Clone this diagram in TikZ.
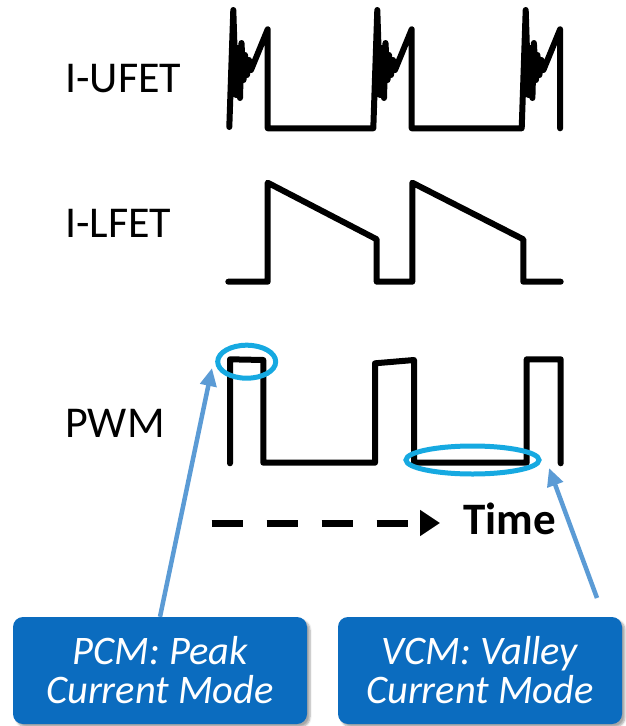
\documentclass[tikz,border=0pt]{standalone}
\usepackage{fontspec}
\setmainfont{Carlito}
\usetikzlibrary{arrows.meta,shapes.geometric,shadows.blur}
\definecolor{boxblue}{HTML}{0B6CBF}
\definecolor{arrowblue}{HTML}{5B9BD5}
\definecolor{ringcyan}{HTML}{16A9E1}
\begin{document}
\begin{tikzpicture}[x=1pt,y=-1pt,
  wave/.style={line width=6pt, line join=round, line cap=round},
  lab/.style={font=\fontsize{44}{50}\selectfont, inner sep=0pt, anchor=base west},
  modebox/.style={rounded corners=10pt, fill=boxblue, text=white,
    font=\itshape\fontsize{40.5}{39}\selectfont, align=center,
    minimum height=107pt, inner sep=0pt,
    blur shadow={shadow xshift=3pt, shadow yshift=-3pt, shadow blur steps=6, shadow opacity=35}},
  ring/.style={ellipse, draw=ringcyan, line width=5pt, inner sep=0pt},
  callout/.style={draw=arrowblue, line width=4.5pt, -{Triangle[length=18pt,width=16pt]}}]
\useasboundingbox (0,0) rectangle (625,726);

% labels
\node[lab] (lu) at (65,92) {I-UFET};
\node[lab] (ll) at (65,237) {I-LFET};
\node[lab] (lp) at (65,437) {PWM};

% I-UFET waveform
\draw[wave] (229.3,127) -- (233.3,10) -- (236,95) -- (238,48) -- (240,98) -- (241.5,43)
  -- (243.5,80) -- (245,55) -- (247,75) -- (249,60) -- (251,70) -- (267.7,29.3) -- (267.7,128.3)
  -- (373.3,128.3) -- (377.3,10) -- (380,95) -- (382,48) -- (384,98) -- (385.5,43)
  -- (387.5,80) -- (389,55) -- (391,75) -- (393,60) -- (395,70) -- (411.7,29.3) -- (411.7,128.3)
  -- (521.7,128.3) -- (525.7,10) -- (528.4,95) -- (530.4,48) -- (532.4,98) -- (533.9,43)
  -- (535.9,80) -- (537.4,55) -- (539.4,75) -- (541.4,60) -- (543.4,70) -- (560.1,29.3) -- (560.1,128.3);

% I-LFET waveform
\draw[wave] (228.3,281.7) -- (267.7,281.7) -- (267.7,182.7) -- (376.7,239.3) -- (376.7,281.7)
  -- (412.3,281.7) -- (412.3,182.7) -- (523.3,239.3) -- (523.3,281.7) -- (560.7,281.7);

% PWM waveform
\draw[wave] (230,463.3) -- (230,359.3) -- (263.3,360) -- (263.3,462.7) -- (375,462.7)
  -- (375,363.3) -- (414,360) -- (414,462.7) -- (526.7,462.7) -- (526.7,359.3)
  -- (560.7,359.3) -- (560.7,463.3);

% highlight rings
\node[ring, minimum width=58pt, minimum height=33pt] (peak) at (246.7,361.7) {};
\node[ring, minimum width=133pt, minimum height=28pt] (valley) at (472.5,460) {};

% time axis
\coordinate (ts) at (211.7,523);
\coordinate (te) at (440,523);
\draw[line width=7pt, dash pattern=on 31.7pt off 23.3pt, -{Triangle[length=20pt,width=25pt]}] (ts) -- (te);
\node[font=\bfseries\fontsize{45}{50}\selectfont, inner sep=0pt, anchor=base west] (time) at (463,534) {Time};

% boxes
\node[modebox, minimum width=294pt] (pcm) at (160,670.5) {PCM: Peak\\Current Mode};
\node[modebox, minimum width=284pt] (vcm) at (480,670.5) {VCM: Valley\\Current Mode};

% callout arrows
\coordinate (ptip) at (212,368);
\coordinate (vstart) at (597,598);
\coordinate (vtip) at (549,468);
\draw[callout] (pcm.north) -- (ptip);
\draw[callout] (vstart) -- (vtip);
\end{tikzpicture}
\end{document}
